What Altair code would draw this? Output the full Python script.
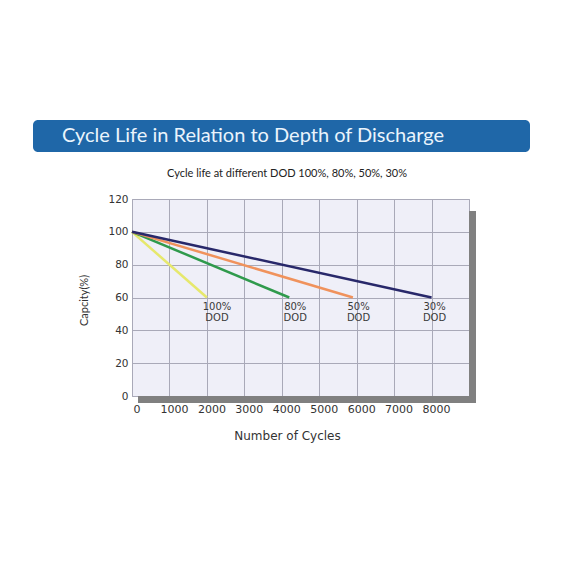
import altair as alt
import pandas as pd

# ---- data ----
series = ["100% DOD", "80% DOD", "50% DOD", "30% DOD"]
start_cycles = [0, 0, 0, 0]
start_capacity = [100, 100, 100, 100]
end_cycles = [2000, 4200, 5900, 8000]
end_capacity = [60, 60, 60, 60]
line_colors = ["#e6e86c", "#2f9a4c", "#f0925c", "#28286a"]

label_text = ["100%\nDOD", "80%\nDOD", "50%\nDOD", "30%\nDOD"]
label_x = [2270, 4360, 6050, 8080]
label_y = [57.5, 57.5, 57.5, 57.5]

x_ticks = [0, 1000, 2000, 3000, 4000, 5000, 6000, 7000, 8000, 9000]
y_ticks = [0, 20, 40, 60, 80, 100, 120]

title_text = "Cycle  Life in Relation to Depth  of Discharge"
subtitle_text = "Cycle life at different DOD 100%, 80%, 50%, 30%"

rows = []
for s, x0, y0, x1, y1 in zip(series, start_cycles, start_capacity, end_cycles, end_capacity):
    rows.append({"series": s, "cycles": x0, "capacity": y0, "order": 0})
    rows.append({"series": s, "cycles": x1, "capacity": y1, "order": 1})
lines_df = pd.DataFrame(rows)
labels_df = pd.DataFrame({"text": label_text, "cycles": label_x, "capacity": label_y})

W, H = 337, 197
GRID = "#a9a9b8"

x_scale = alt.Scale(domain=[0, 9000], nice=False, zero=True)
y_scale = alt.Scale(domain=[0, 120], nice=False)

x_axis = alt.Axis(
    values=x_ticks, labelExpr="datum.value == 9000 ? '' : datum.label",
    format="d", ticks=False, domain=False, grid=True, gridColor=GRID, gridWidth=1,
    labelFont="DejaVu Sans", labelFontSize=11, labelColor="#333333",
    labelPadding=7, labelOffset=4.5, labelFlush=False, labelOverlap=False,
    title="Number of Cycles", titleFont="DejaVu Sans", titleFontSize=12,
    titleFontWeight="normal", titleColor="#333333", titleX=155, titleY=39,
    titleBaseline="middle", titleAnchor="middle", titleAlign="center",
)
y_axis = alt.Axis(
    values=y_ticks, ticks=False, domain=False, grid=True, gridColor=GRID, gridWidth=1,
    labelFont="DejaVu Sans", labelFontSize=10.5, labelColor="#333333", labelPadding=4,
    labelFlush=False, labelOverlap=False,
    title="Capcity(%)", titleFont="Lato", titleFontSize=11, titleFontWeight="normal",
    titleColor="#333333", titleX=-48, titleY=101, titleAngle=-90,
    titleBaseline="middle", titleAlign="center",
)

lines = alt.Chart(lines_df).mark_line(strokeWidth=2.5).encode(
    x=alt.X("cycles:Q", scale=x_scale, axis=x_axis),
    y=alt.Y("capacity:Q", scale=y_scale, axis=y_axis),
    color=alt.Color("series:N", scale=alt.Scale(domain=series, range=line_colors), legend=None),
    detail="series:N",
    order="order:Q",
)

labels = alt.Chart(labels_df).mark_text(
    font="DejaVu Sans", fontSize=10, color="#3a3a3a", lineBreak="\n",
    baseline="top", align="center", lineHeight=11,
).encode(
    x=alt.X("cycles:Q", scale=x_scale, axis=x_axis),
    y=alt.Y("capacity:Q", scale=y_scale, axis=y_axis),
    text="text:N",
)

one = pd.DataFrame({"t": [title_text]})

shadow_right = alt.Chart(one).mark_rect(color="#808080").encode(
    x=alt.value(W), x2=alt.value(W + 7), y=alt.value(12), y2=alt.value(H + 7)
)
shadow_bottom = alt.Chart(one).mark_rect(color="#808080").encode(
    x=alt.value(6), x2=alt.value(W + 7), y=alt.value(H), y2=alt.value(H + 7)
)

banner = alt.Chart(one).mark_rect(color="#1f67a8", cornerRadius=5).encode(
    x=alt.value(-99), x2=alt.value(398), y=alt.value(-79), y2=alt.value(-47)
)
banner_text = alt.Chart(one).mark_text(
    font="Lato", fontSize=20, color="#eaf4fc", align="left", baseline="middle"
).encode(x=alt.value(-70), y=alt.value(-63), text="t:N")

sub = alt.Chart(pd.DataFrame({"t": [subtitle_text]})).mark_text(
    font="Lato", fontSize=11, color="#222222", align="center", baseline="middle"
).encode(x=alt.value(155), y=alt.value(-25), text="t:N")

chart = alt.layer(
    shadow_right, shadow_bottom, lines, labels, banner, banner_text, sub
).properties(
    width=W, height=H,
    padding={"left": 124, "top": 191, "right": 80, "bottom": 150},
    autosize=alt.AutoSizeParams(type="none"),
    background="white",
).configure_view(
    fill="#efeff8", stroke=GRID, strokeWidth=1,
)

chart.save("out.html", embed_options={"renderer": "svg", "actions": False})
